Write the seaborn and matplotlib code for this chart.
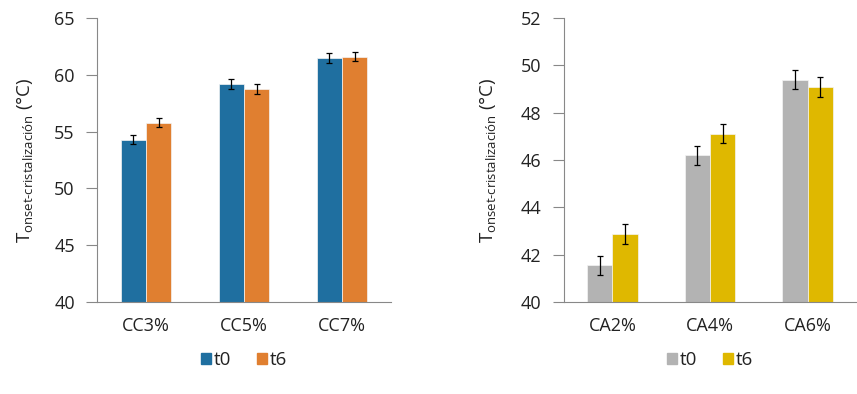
import matplotlib
matplotlib.use("Agg")
import matplotlib.pyplot as plt
import seaborn as sns
import pandas as pd
import numpy as np

sns.set_style("white")
plt.rcParams['font.family'] = ['Open Sans', 'DejaVu Sans']
plt.rcParams['mathtext.fontset'] = 'custom'
plt.rcParams['mathtext.rm'] = 'Open Sans'
plt.rcParams['mathtext.it'] = 'Open Sans'

# Left panel data
cc_cats = ["CC3%", "CC5%", "CC7%"]
cc_t0 = [54.3, 59.2, 61.45]
cc_t6 = [55.8, 58.75, 61.6]
cc_t0_err = [0.42, 0.42, 0.43]
cc_t6_err = [0.4, 0.42, 0.42]

# Right panel data
ca_cats = ["CA2%", "CA4%", "CA6%"]
ca_t0 = [41.55, 46.2, 49.4]
ca_t6 = [42.87, 47.1, 49.08]
ca_t0_err = [0.4, 0.41, 0.39]
ca_t6_err = [0.42, 0.4, 0.42]

series = ["t0", "t6"]
ylabel = r"T$_{\text{onset-cristalización}}$ (°C)"

fig = plt.figure(figsize=(8.57, 3.94), dpi=100)
ax1 = fig.add_axes([97/857, 1-302/394, 294/857, 284/394])
ax2 = fig.add_axes([563.5/857, 1-302/394, 293/857, 284/394])

def panel(ax, cats, t0, t6, e0, e6, colors, ylim, yticks, labelpad):
    df = pd.DataFrame({
        "cat": cats * 2,
        "val": t0 + t6,
        "err": e0 + e6,
        "serie": [series[0]] * len(cats) + [series[1]] * len(cats),
    })
    sns.barplot(data=df, x="cat", y="val", hue="serie", palette=colors,
                width=0.52, gap=0, errorbar=None, ax=ax, saturation=1,
                edgecolor="#f4f4f4", linewidth=0.5, legend=False)
    bars = [p for p in ax.patches if p.get_height() > 0]
    vals = t0 + t6
    errs = e0 + e6
    for p in bars:
        xc = p.get_x() + p.get_width() / 2
        h = p.get_y() + p.get_height()
        idx = int(np.argmin([abs(v - h) for v in vals]))
        ax.errorbar(xc, vals[idx], yerr=errs[idx], fmt="none", ecolor="black",
                    elinewidth=0.9, capsize=2.2, capthick=0.9, zorder=5)
    ax.set_ylim(*ylim)
    ax.set_xlim(-0.5, len(cats) - 0.5)
    ax.set_yticks(yticks)
    ax.set_yticklabels([str(v) for v in yticks], fontsize=13, color="#222222")
    ax.set_xticks(range(len(cats)))
    ax.set_xticklabels(cats, fontsize=13, color="#222222")
    ax.set_xticks(np.arange(-0.5, len(cats), 1.0), minor=True)
    ax.tick_params(axis="x", which="major", length=0, pad=11)
    ax.tick_params(axis="x", which="minor", length=8, color="#888888", width=0.8)
    ax.tick_params(axis="y", length=8, color="#888888", width=0.8, pad=8, left=True)
    ax.set_xlabel("")
    ax.set_ylabel(ylabel, fontsize=13.5, color="#222222", labelpad=labelpad)
    for s in ["top", "right"]:
        ax.spines[s].set_visible(False)
    for s in ["left", "bottom"]:
        ax.spines[s].set_color("#888888")
        ax.spines[s].set_linewidth(0.8)
    handles = [plt.Rectangle((0, 0), 1, 1, color=c) for c in colors]
    leg = ax.legend(handles, series, loc="center", bbox_to_anchor=(0.5, -0.205),
                    ncol=2, frameon=False, fontsize=13.5, handlelength=0.55,
                    handleheight=0.55, handletextpad=0.15, columnspacing=1.35)
    for t in leg.get_texts():
        t.set_color("#222222")

panel(ax1, cc_cats, cc_t0, cc_t6, cc_t0_err, cc_t6_err,
      ["#1F6FA0", "#E07F30"], (40, 65), [40, 45, 50, 55, 60, 65], 14)
panel(ax2, ca_cats, ca_t0, ca_t6, ca_t0_err, ca_t6_err,
      ["#B3B3B3", "#DFB800"], (40, 52), [40, 42, 44, 46, 48, 50, 52], 16)

fig.savefig("out.png", dpi=100)
